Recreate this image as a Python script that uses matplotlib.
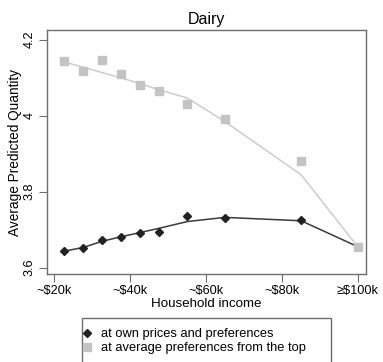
import matplotlib
matplotlib.use("Agg")
import matplotlib.pyplot as plt
from matplotlib.lines import Line2D
from matplotlib.patches import Rectangle

plt.rcParams['font.family'] = ['Liberation Sans', 'DejaVu Sans']

# Household income (thousands of dollars)
income = [22.6, 27.7, 32.6, 37.6, 42.6, 47.5, 55.1, 65.0, 85.1, 100.0]

# Predicted quantity at own prices and preferences
own_points = [3.643, 3.652, 3.672, 3.680, 3.691, 3.693, 3.735, 3.730, 3.726, 3.655]
own_fit = [3.643, 3.653, 3.669, 3.681, 3.692, 3.703, 3.721, 3.732, 3.723, 3.655]

# Predicted quantity at average preferences from the top
top_points = [4.143, 4.117, 4.146, 4.109, 4.080, 4.065, 4.030, 3.990, 3.880, 3.655]
top_fit = [4.141, 4.127, 4.113, 4.099, 4.084, 4.068, 4.046, 3.984, 3.844, 3.655]

xtick_vals = [20, 40, 60, 80, 100]
xtick_labels = ['~$20k', '~$40k', '~$60k', '~$80k', '≥$100k']
ytick_vals = [3.6, 3.8, 4.0, 4.2]
ytick_labels = ['3.6', '3.8', '4', '4.2']

dark = '#222222'
light = '#c3c3c3'
frame = '#6e6e6e'

W, H = 383, 362
fig = plt.figure(figsize=(W / 100, H / 100), dpi=100)
ax = fig.add_axes([0.1227, 0.2431, 0.8329, 0.6740])

ax.plot(income, own_fit, color='#3a3a3a', lw=1.1, zorder=2)
ax.plot(income, top_fit, color='#cccccc', lw=1.1, zorder=2)
ax.plot(income, own_points, ls='none', marker='D', ms=4.4, color=dark, zorder=3)
ax.plot(income, top_points, ls='none', marker='s', ms=5.3, color=light, zorder=4)

ax.set_xlim(18.08, 102.19)
ax.set_ylim(3.583, 4.225)
ax.set_xticks(xtick_vals)
ax.set_xticklabels(xtick_labels)
ax.set_yticks(ytick_vals)
ax.set_yticklabels(ytick_labels, rotation=90, va='center')

for s in ax.spines.values():
    s.set_color(frame)
    s.set_linewidth(1.0)
ax.tick_params(direction='out', length=6, width=0.8, color=frame,
               labelsize=9.2, pad=2)

ax.set_xlabel('Household income', fontsize=9.6, labelpad=1)
ax.set_ylabel('Average Predicted Quantity', fontsize=9.8, labelpad=1.5)
ax.set_title('Dairy', fontsize=11.5, pad=4)

handles = [
    Line2D([], [], ls='none', marker='D', ms=4.4, color=dark),
    Line2D([], [], ls='none', marker='s', ms=5.3, color=light),
]
leg = fig.legend(handles,
                 ['at own prices and preferences',
                  'at average preferences from the top'],
                 loc='upper left', bbox_to_anchor=(79.2 / W, 1 - 324.5 / H),
                 fontsize=9.3, frameon=False,
                 handlelength=0.6, handletextpad=0.8, borderpad=0.3,
                 labelspacing=0.15, borderaxespad=0)

# legend box runs past the lower edge of the figure
fig.patches.append(Rectangle((81.7 / W, -0.05), (331 - 81.7) / W,
                             (1 - 318.3 / H) + 0.05,
                             transform=fig.transFigure, fill=False,
                             edgecolor=frame, linewidth=1.0))

fig.savefig('out.png', dpi=100)
